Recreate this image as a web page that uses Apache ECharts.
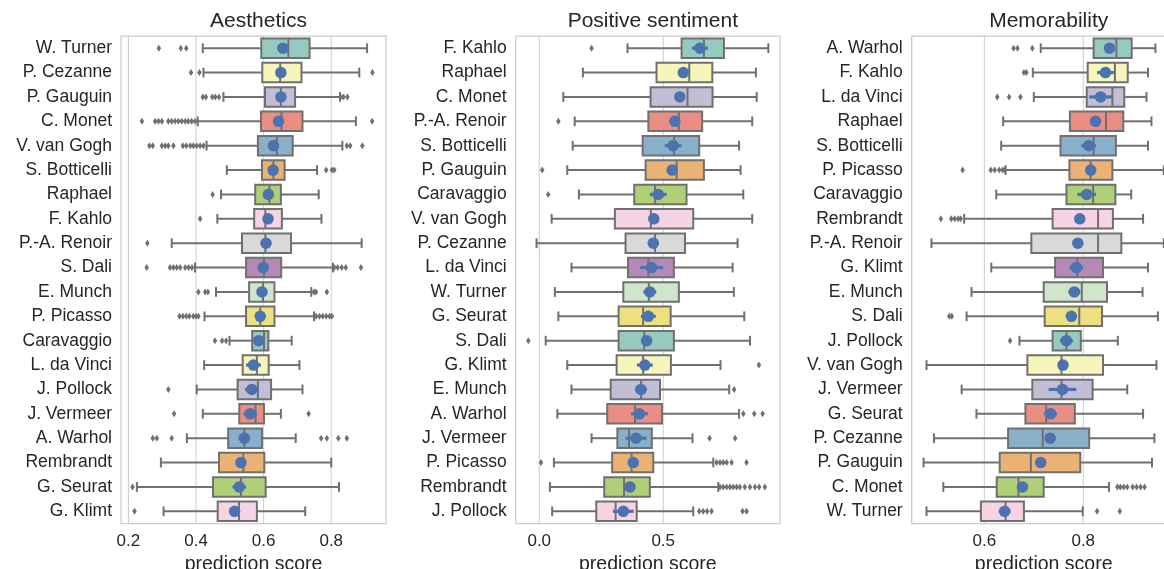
<!DOCTYPE html>
<html>
<head>
<meta charset="utf-8">
<script src="https://cdn.jsdelivr.net/npm/echarts@6/dist/echarts.min.js"></script>
<style>
  html, body { margin: 0; padding: 0; background: #ffffff; }
  #chart { width: 1164px; height: 569px; }
</style>
</head>
<body>
<div id="chart"></div>
<script>
// ---------- Aesthetics ----------
const aesNames = ['W. Turner', 'P. Cezanne', 'P. Gauguin', 'C. Monet', 'V. van Gogh', 'S. Botticelli', 'Raphael', 'F. Kahlo', 'P.-A. Renoir', 'S. Dali', 'E. Munch', 'P. Picasso', 'Caravaggio', 'L. da Vinci', 'J. Pollock', 'J. Vermeer', 'A. Warhol', 'Rembrandt', 'G. Seurat', 'G. Klimt'];
const aesLow  = [0.420, 0.422, 0.481, 0.405, 0.431, 0.491, 0.474, 0.463, 0.328, 0.397, 0.459, 0.425, 0.499, 0.424, 0.402, 0.420, 0.373, 0.296, 0.225, 0.304];
const aesQ1   = [0.593, 0.596, 0.604, 0.592, 0.583, 0.595, 0.575, 0.572, 0.536, 0.548, 0.557, 0.548, 0.566, 0.538, 0.523, 0.528, 0.495, 0.468, 0.450, 0.464];
const aesMed  = [0.673, 0.649, 0.651, 0.653, 0.639, 0.629, 0.617, 0.605, 0.605, 0.601, 0.598, 0.590, 0.601, 0.580, 0.583, 0.576, 0.543, 0.540, 0.533, 0.527];
const aesQ3   = [0.736, 0.712, 0.693, 0.715, 0.686, 0.662, 0.651, 0.654, 0.681, 0.652, 0.632, 0.632, 0.614, 0.615, 0.622, 0.601, 0.595, 0.602, 0.606, 0.580];
const aesHigh = [0.906, 0.883, 0.826, 0.873, 0.833, 0.758, 0.763, 0.771, 0.890, 0.805, 0.741, 0.749, 0.683, 0.706, 0.715, 0.651, 0.695, 0.800, 0.823, 0.723];
const aesMean = [0.657, 0.651, 0.651, 0.644, 0.629, 0.628, 0.614, 0.613, 0.607, 0.599, 0.595, 0.590, 0.585, 0.570, 0.565, 0.560, 0.543, 0.533, 0.528, 0.514];
const aesCI   = [0.010, 0.010, 0.008, 0.010, 0.010, 0.008, 0.010, 0.010, 0.012, 0.010, 0.008, 0.010, 0.012, 0.022, 0.020, 0.020, 0.017, 0.012, 0.020, 0.012];
const aesOut  = [
  [0.290, 0.355, 0.371],
  [0.385, 0.410, 0.922],
  [0.420, 0.429, 0.448, 0.457, 0.468, 0.828, 0.836, 0.848],
  [0.240, 0.279, 0.289, 0.299, 0.318, 0.328, 0.338, 0.348, 0.358, 0.368, 0.377, 0.387, 0.397, 0.921],
  [0.262, 0.272, 0.299, 0.309, 0.318, 0.333, 0.361, 0.371, 0.383, 0.392, 0.402, 0.412, 0.422, 0.846, 0.856, 0.892],
  [0.785, 0.802, 0.809],
  [0.449],
  [0.412],
  [0.256],
  [0.254, 0.323, 0.333, 0.343, 0.353, 0.368, 0.378, 0.388, 0.809, 0.819, 0.831, 0.843, 0.888],
  [0.407, 0.427, 0.435, 0.749, 0.755, 0.787],
  [0.351, 0.361, 0.371, 0.380, 0.392, 0.400, 0.407, 0.755, 0.765, 0.775, 0.785, 0.795, 0.802],
  [0.456, 0.477, 0.489],
  [],
  [0.318],
  [0.335, 0.733],
  [0.272, 0.284, 0.328, 0.770, 0.787, 0.821, 0.846],
  [],
  [0.212],
  [0.218]
];
const aesTicks = [0.2, 0.4, 0.6, 0.8];

// ---------- Positive sentiment ----------
const posNames = ['F. Kahlo', 'Raphael', 'C. Monet', 'P.-A. Renoir', 'S. Botticelli', 'P. Gauguin', 'Caravaggio', 'V. van Gogh', 'P. Cezanne', 'L. da Vinci', 'W. Turner', 'G. Seurat', 'S. Dali', 'G. Klimt', 'E. Munch', 'A. Warhol', 'J. Vermeer', 'P. Picasso', 'Rembrandt', 'J. Pollock'];
const posLow  = [0.356, 0.176, 0.097, 0.143, 0.135, 0.113, 0.160, 0.050, -0.011, 0.130, 0.063, 0.077, 0.026, 0.113, 0.130, 0.073, 0.211, 0.059, 0.043, 0.052];
const posQ1   = [0.574, 0.473, 0.449, 0.440, 0.417, 0.429, 0.383, 0.305, 0.348, 0.358, 0.339, 0.320, 0.320, 0.312, 0.288, 0.274, 0.315, 0.294, 0.262, 0.230];
const posMed  = [0.664, 0.605, 0.598, 0.563, 0.544, 0.554, 0.467, 0.450, 0.467, 0.440, 0.442, 0.419, 0.423, 0.419, 0.411, 0.386, 0.362, 0.372, 0.342, 0.308];
const posQ3   = [0.745, 0.698, 0.699, 0.657, 0.645, 0.664, 0.594, 0.621, 0.588, 0.543, 0.563, 0.530, 0.543, 0.531, 0.487, 0.495, 0.454, 0.460, 0.446, 0.393];
const posHigh = [0.924, 0.874, 0.877, 0.859, 0.806, 0.812, 0.823, 0.859, 0.800, 0.780, 0.785, 0.827, 0.850, 0.731, 0.766, 0.806, 0.618, 0.702, 0.722, 0.621];
const posMean = [0.648, 0.581, 0.567, 0.547, 0.540, 0.536, 0.480, 0.462, 0.460, 0.453, 0.446, 0.440, 0.433, 0.426, 0.410, 0.404, 0.390, 0.379, 0.366, 0.339];
const posCI   = [0.032, 0.020, 0.020, 0.020, 0.034, 0.020, 0.034, 0.020, 0.020, 0.046, 0.026, 0.030, 0.020, 0.032, 0.024, 0.034, 0.042, 0.020, 0.020, 0.042];
const posOut  = [
  [0.211],
  [],
  [],
  [0.077],
  [],
  [0.012],
  [0.036],
  [],
  [],
  [],
  [],
  [],
  [-0.044],
  [0.886],
  [0.786],
  [0.823, 0.867, 0.901],
  [0.687, 0.790],
  [0.007, 0.715, 0.729, 0.742, 0.756, 0.776, 0.836],
  [0.729, 0.742, 0.756, 0.769, 0.782, 0.796, 0.809, 0.829, 0.850, 0.870, 0.887, 0.910],
  [0.645, 0.661, 0.677, 0.695, 0.820, 0.836]
];
const posTicks = [0.0, 0.5];

// ---------- Memorability ----------
const memNames = ['A. Warhol', 'F. Kahlo', 'L. da Vinci', 'Raphael', 'S. Botticelli', 'P. Picasso', 'Caravaggio', 'Rembrandt', 'P.-A. Renoir', 'G. Klimt', 'E. Munch', 'S. Dali', 'J. Pollock', 'V. van Gogh', 'J. Vermeer', 'G. Seurat', 'P. Cezanne', 'P. Gauguin', 'C. Monet', 'W. Turner'];
const memLow  = [0.714, 0.698, 0.700, 0.638, 0.634, 0.643, 0.624, 0.559, 0.493, 0.614, 0.574, 0.564, 0.671, 0.483, 0.554, 0.584, 0.498, 0.477, 0.517, 0.483];
const memQ1   = [0.821, 0.809, 0.807, 0.773, 0.754, 0.772, 0.766, 0.738, 0.695, 0.743, 0.720, 0.722, 0.738, 0.687, 0.697, 0.683, 0.648, 0.631, 0.625, 0.593];
const memMed  = [0.867, 0.864, 0.859, 0.846, 0.821, 0.815, 0.820, 0.830, 0.830, 0.788, 0.797, 0.792, 0.766, 0.756, 0.756, 0.725, 0.718, 0.694, 0.669, 0.643];
const memQ3   = [0.898, 0.890, 0.883, 0.881, 0.866, 0.859, 0.865, 0.860, 0.877, 0.840, 0.848, 0.838, 0.795, 0.840, 0.819, 0.783, 0.812, 0.794, 0.720, 0.680];
const memHigh = [0.946, 0.931, 0.928, 0.938, 0.931, 0.963, 0.897, 0.921, 0.963, 0.931, 0.920, 0.951, 0.870, 0.948, 0.889, 0.921, 0.944, 0.939, 0.852, 0.799];
const memMean = [0.853, 0.845, 0.835, 0.825, 0.811, 0.815, 0.807, 0.793, 0.789, 0.786, 0.782, 0.776, 0.766, 0.759, 0.758, 0.734, 0.733, 0.714, 0.677, 0.641];
const memCI   = [0.008, 0.017, 0.023, 0.010, 0.015, 0.010, 0.019, 0.010, 0.010, 0.014, 0.012, 0.010, 0.013, 0.010, 0.028, 0.013, 0.010, 0.010, 0.010, 0.012];
const memOut  = [
  [0.659, 0.667, 0.697],
  [0.680, 0.685],
  [0.626, 0.650, 0.673],
  [],
  [],
  [0.556, 0.613, 0.621, 0.630, 0.637, 0.641],
  [],
  [0.512, 0.533, 0.540, 0.547, 0.552],
  [],
  [],
  [],
  [0.529, 0.534],
  [0.652],
  [],
  [],
  [],
  [],
  [],
  [0.869, 0.875, 0.882, 0.889, 0.900, 0.908, 0.916, 0.924],
  [0.828, 0.874]
];
const memTicks = [0.6, 0.8];

// Set3 palette, toned down like a 0.75 saturation boxplot fill
const SET3 = ['#8dd3c7', '#ffffb3', '#bebada', '#fb8072', '#80b1d3', '#fdb462',
              '#b3de69', '#fccde5', '#d9d9d9', '#bc80bd', '#ccebc5', '#ffed6f'];

function desaturate(hex, prop) {
  let r = parseInt(hex.slice(1, 3), 16) / 255;
  let g = parseInt(hex.slice(3, 5), 16) / 255;
  let b = parseInt(hex.slice(5, 7), 16) / 255;
  const mx = Math.max(r, g, b), mn = Math.min(r, g, b);
  const l = (mx + mn) / 2;
  let h = 0, s = 0;
  if (mx !== mn) {
    const d = mx - mn;
    s = l > 0.5 ? d / (2 - mx - mn) : d / (mx + mn);
    if (mx === r) h = ((g - b) / d + (g < b ? 6 : 0));
    else if (mx === g) h = (b - r) / d + 2;
    else h = (r - g) / d + 4;
    h /= 6;
  }
  s *= prop;
  function hue2rgb(p, q, t) {
    if (t < 0) t += 1;
    if (t > 1) t -= 1;
    if (t < 1 / 6) return p + (q - p) * 6 * t;
    if (t < 1 / 2) return q;
    if (t < 2 / 3) return p + (q - p) * (2 / 3 - t) * 6;
    return p;
  }
  const q = l < 0.5 ? l * (1 + s) : l + s - l * s;
  const p = 2 * l - q;
  const to = v => Math.round(v * 255).toString(16).padStart(2, '0');
  return '#' + to(hue2rgb(p, q, h + 1 / 3)) + to(hue2rgb(p, q, h)) + to(hue2rgb(p, q, h - 1 / 3));
}
const FILLS = SET3.map(c => desaturate(c, 0.75));

const EDGE = '#707070';
const MEAN_BLUE = '#4c72b0';
const TEXT = '#262626';
const FRAME = '#cccccc';
const FONT = "'Liberation Sans', Arial, Helvetica, sans-serif";

const panels = [
  { title: 'Aesthetics', names: aesNames, low: aesLow, q1: aesQ1, med: aesMed, q3: aesQ3, high: aesHigh,
    mean: aesMean, ci: aesCI, out: aesOut, ticks: aesTicks, min: 0.178, max: 0.962, left: 121, width: 265 },
  { title: 'Positive sentiment', names: posNames, low: posLow, q1: posQ1, med: posMed, q3: posQ3, high: posHigh,
    mean: posMean, ci: posCI, out: posOut, ticks: posTicks, min: -0.095, max: 0.971, left: 515.7, width: 264.3 },
  { title: 'Memorability', names: memNames, low: memLow, q1: memQ1, med: memMed, q3: memQ3, high: memHigh,
    mean: memMean, ci: memCI, out: memOut, ticks: memTicks, min: 0.453, max: 0.987, left: 911.7, width: 264 }
];

const GRID_TOP = 36;
const GRID_HEIGHT = 487.5;

const grids = [], xAxes = [], yAxes = [], titles = [], series = [];

panels.forEach((p, gi) => {
  grids.push({
    left: p.left, width: p.width, top: GRID_TOP, height: GRID_HEIGHT,
    outerBoundsMode: 'none', containLabel: false,
    show: true, borderColor: FRAME, borderWidth: 1.25, backgroundColor: 'transparent'
  });
  titles.push({
    text: p.title, left: p.left + p.width / 2, top: 6, textAlign: 'center',
    textStyle: { fontFamily: FONT, fontSize: 21, fontWeight: 'normal', color: TEXT }
  });
  xAxes.push({
    type: 'value', gridIndex: gi, min: p.min, max: p.max,
    axisLine: { show: false }, axisTick: { show: false }, splitLine: { show: false },
    axisLabel: {
      customValues: p.ticks, margin: 9, fontFamily: FONT, fontSize: 17, color: TEXT,
      formatter: v => Number(v).toFixed(1)
    },
    name: 'prediction score', nameLocation: 'middle', nameGap: 25,
    nameTextStyle: { fontFamily: FONT, fontSize: 19.5, color: TEXT }
  });
  yAxes.push({
    type: 'category', gridIndex: gi, data: p.names, inverse: true,
    axisLine: { show: false }, axisTick: { show: false }, splitLine: { show: false },
    axisLabel: { margin: 9, fontFamily: FONT, fontSize: 17.5, color: TEXT }
  });

  // vertical grid lines at the tick values
  series.push({
    type: 'custom', xAxisIndex: gi, yAxisIndex: gi, silent: true, z: 0,
    data: p.ticks.map(v => [v]),
    encode: { x: 0 },
    renderItem: (params, api) => {
      const cs = params.coordSys;
      const x = api.coord([api.value(0), 0])[0];
      return {
        type: 'line',
        shape: { x1: x, y1: cs.y, x2: x, y2: cs.y + cs.height },
        style: { stroke: FRAME, lineWidth: 1 }
      };
    }
  });

  // boxes, whiskers, caps and medians
  const boxData = p.names.map((n, i) => [i, p.low[i], p.q1[i], p.med[i], p.q3[i], p.high[i]]);
  series.push({
    type: 'custom', xAxisIndex: gi, yAxisIndex: gi, silent: true, z: 2,
    data: boxData,
    encode: { y: 0, x: [1, 2, 3, 4, 5] },
    renderItem: (params, api) => {
      const row = api.value(0);
      const band = api.size([0, 1])[1];
      const boxH = band * 0.8;
      const capH = boxH * 0.5;
      const pLow = api.coord([api.value(1), row]);
      const pQ1 = api.coord([api.value(2), row]);
      const pMed = api.coord([api.value(3), row]);
      const pQ3 = api.coord([api.value(4), row]);
      const pHigh = api.coord([api.value(5), row]);
      const cy = pQ1[1];
      const lineStyle = { stroke: EDGE, lineWidth: 2, fill: null };
      return {
        type: 'group',
        children: [
          { type: 'line', shape: { x1: pLow[0], y1: cy, x2: pQ1[0], y2: cy }, style: lineStyle },
          { type: 'line', shape: { x1: pQ3[0], y1: cy, x2: pHigh[0], y2: cy }, style: lineStyle },
          { type: 'line', shape: { x1: pLow[0], y1: cy - capH / 2, x2: pLow[0], y2: cy + capH / 2 }, style: lineStyle },
          { type: 'line', shape: { x1: pHigh[0], y1: cy - capH / 2, x2: pHigh[0], y2: cy + capH / 2 }, style: lineStyle },
          { type: 'rect', shape: { x: pQ1[0], y: cy - boxH / 2, width: pQ3[0] - pQ1[0], height: boxH },
            style: { fill: FILLS[params.dataIndex % FILLS.length], stroke: EDGE, lineWidth: 2 } },
          { type: 'line', shape: { x1: pMed[0], y1: cy - boxH / 2, x2: pMed[0], y2: cy + boxH / 2 }, style: lineStyle }
        ]
      };
    }
  });

  // outliers
  const outData = [];
  p.out.forEach((vals, i) => vals.forEach(v => outData.push([v, i])));
  series.push({
    type: 'scatter', xAxisIndex: gi, yAxisIndex: gi, silent: true, z: 3,
    symbol: 'diamond', symbolSize: [4.5, 7],
    itemStyle: { color: EDGE, opacity: 1 },
    data: outData
  });

  // mean confidence bars
  const ciData = p.mean.map((m, i) => [i, m - p.ci[i], m + p.ci[i]]);
  series.push({
    type: 'custom', xAxisIndex: gi, yAxisIndex: gi, silent: true, z: 4,
    data: ciData,
    encode: { y: 0, x: [1, 2] },
    renderItem: (params, api) => {
      const row = api.value(0);
      const a = api.coord([api.value(1), row]);
      const b = api.coord([api.value(2), row]);
      return {
        type: 'line',
        shape: { x1: a[0], y1: a[1], x2: b[0], y2: b[1] },
        style: { stroke: MEAN_BLUE, lineWidth: 3.2 }
      };
    }
  });

  // means
  series.push({
    type: 'scatter', xAxisIndex: gi, yAxisIndex: gi, silent: true, z: 5,
    symbol: 'circle', symbolSize: 11.5,
    itemStyle: { color: MEAN_BLUE, opacity: 1 },
    data: p.mean.map((m, i) => [m, i])
  });
});

const chart = echarts.init(document.getElementById('chart'), null, { renderer: 'canvas' });
chart.setOption({
  animation: false,
  backgroundColor: '#ffffff',
  title: titles,
  grid: grids,
  xAxis: xAxes,
  yAxis: yAxes,
  series: series
});
</script>
</body>
</html>
